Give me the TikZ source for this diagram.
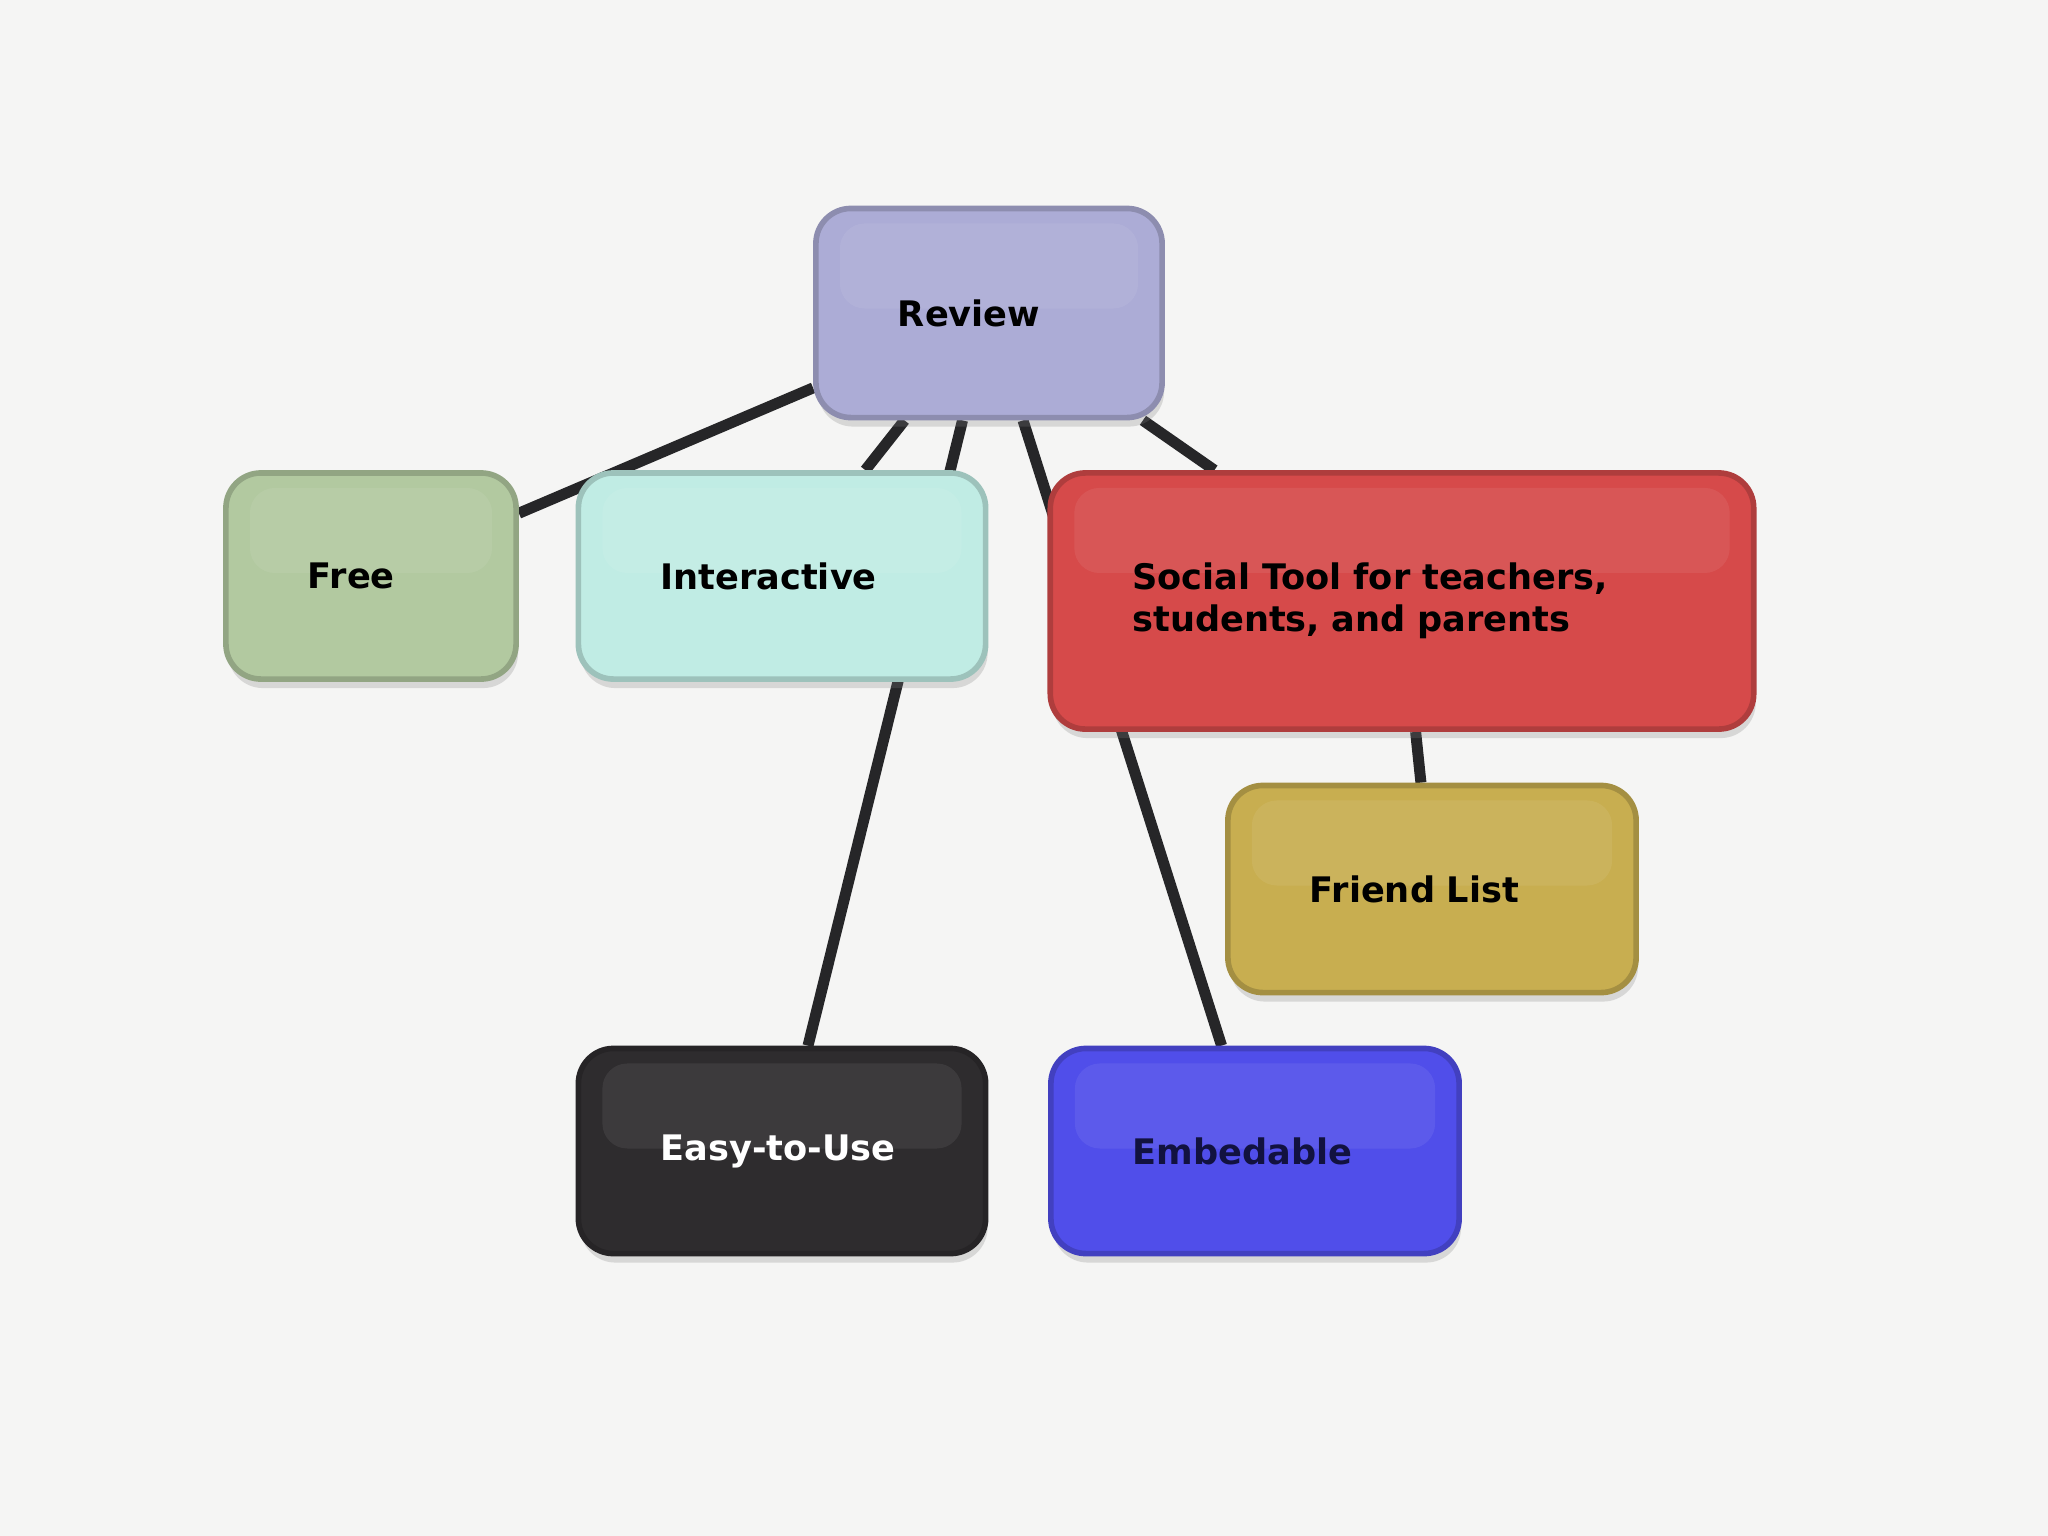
\documentclass[tikz,border=0pt]{standalone}
\usepackage{fontspec}
\setmainfont{DejaVu Sans}
\usetikzlibrary{shadows,backgrounds}

\definecolor{paperC}{RGB}{245,245,244}
\definecolor{linkC}{RGB}{38,38,40}
\definecolor{reviewC}{RGB}{172,172,214}
\definecolor{freeC}{RGB}{178,201,160}
\definecolor{interC}{RGB}{192,236,228}
\definecolor{socialC}{RGB}{214,74,74}
\definecolor{friendC}{RGB}{200,174,80}
\definecolor{easyC}{RGB}{46,44,46}
\definecolor{embedC}{RGB}{80,78,234}
\definecolor{embedT}{RGB}{18,18,64}

\tikzset{
  bubble/.style={rounded corners=0.35cm, fill=#1, draw=#1!82!black,
    line width=1.6pt, align=left, inner xsep=0.82cm, inner ysep=0pt,
    font=\bfseries\fontsize{10}{12}\selectfont,
    drop shadow={opacity=0.25,shadow xshift=0.02cm,shadow yshift=-0.09cm},
    path picture={
      \fill[white,opacity=0.07,rounded corners=0.25cm]
        ([shift={(0.24cm,-0.15cm)}]path picture bounding box.north west) rectangle
        ([shift={(-0.24cm,-1.0cm)}]path picture bounding box.north east);
    }},
  link/.style={line width=0.11cm, draw=linkC}
}

\begin{document}
\begin{tikzpicture}[x=0.01cm,y=-0.01cm]
  % ================= 纸面 =================
  \useasboundingbox (0,0) rectangle (2048,1536);

  % ================= 上层 =================
  \node[bubble=reviewC, text width=1.82cm, minimum height=2.09cm] (review)
    at (989,313) {Review};

  % ================= 第二层 =================
  \node[bubble=freeC, text width=1.26cm, minimum height=2.06cm] (free)
    at (371,576) {Free};
  \node[bubble=interC, text width=2.43cm, minimum height=2.06cm] (inter)
    at (782,576) {Interactive};
  \node[bubble=socialC, text width=5.39cm, minimum height=2.56cm] (social)
    at (1402,601) {Social Tool for teachers,\\students, and parents};
  \node[bubble=friendC, text width=2.44cm, minimum height=2.07cm] (friend)
    at (1432,889) {Friend List};

  % ================= 底层 =================
  \node[bubble=easyC, text=white, text width=2.43cm, minimum height=2.05cm] (easy)
    at (782,1151) {Easy-to-Use};
  \node[bubble=embedC, text=embedT, text width=2.44cm, minimum height=2.05cm] (embed)
    at (1255,1151) {Embedable};

  % 连线 (放在节点之后的背景层)
  \begin{scope}[on background layer]
    \fill[paperC] (0,0) rectangle (2048,1536);
    \draw[link] (review) -- (free);
    \draw[link] (review) -- (inter);
    \draw[link] (review) -- (easy);
    \draw[link] (review) -- (embed);
    \draw[link] (review) -- (social);
    \draw[link] (social) -- (friend);
  \end{scope}
\end{tikzpicture}
\end{document}
